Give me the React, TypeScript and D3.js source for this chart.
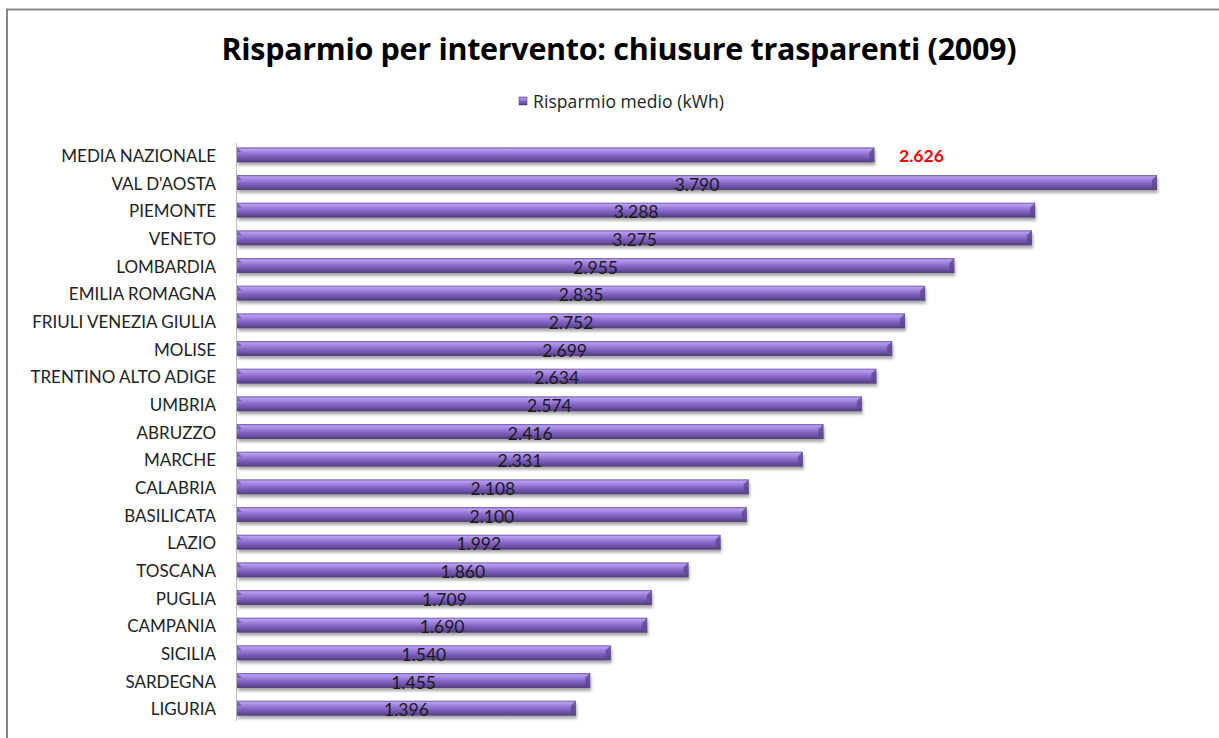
import React from "react";
import * as d3 from "d3";

const categories = [
  "MEDIA NAZIONALE", "VAL D'AOSTA", "PIEMONTE", "VENETO", "LOMBARDIA", "EMILIA ROMAGNA",
  "FRIULI VENEZIA GIULIA", "MOLISE", "TRENTINO ALTO ADIGE", "UMBRIA", "ABRUZZO", "MARCHE",
  "CALABRIA", "BASILICATA", "LAZIO", "TOSCANA", "PUGLIA", "CAMPANIA", "SICILIA", "SARDEGNA", "LIGURIA",
];
const values = [
  2.626, 3.79, 3.288, 3.275, 2.955, 2.835, 2.752, 2.699, 2.634, 2.574, 2.416, 2.331,
  2.108, 2.1, 1.992, 1.86, 1.709, 1.69, 1.54, 1.455, 1.396,
];
const seriesName = "Risparmio medio (kWh)";
const title = "Risparmio per intervento: chiusure trasparenti (2009)";

const W = 1219;
const H = 738;
const FONT = "Lato, 'Open Sans', sans-serif";
const WIDE = "'Open Sans', Lato, sans-serif";

export default function App() {
  const x = d3.scaleLinear().domain([0, 3.79]).range([237, 1157]);
  const y = d3.scaleBand<string>().domain(categories).range([141, 722]).paddingInner(0.46).paddingOuter(0.23);
  const bh = y.bandwidth();
  const fmt = (v: number) => d3.format(".3f")(v);

  return (
    <svg width={W} height={H} style={{ position: "absolute", left: 0, top: 0, background: "#fff" }}>
      <defs>
        <linearGradient id="barg" x1="0" y1="0" x2="0" y2="1">
          <stop offset="0" stopColor="#6a52a0" />
          <stop offset="0.12" stopColor="#b89ef0" />
          <stop offset="0.35" stopColor="#9d7fdc" />
          <stop offset="0.55" stopColor="#8465c4" />
          <stop offset="0.8" stopColor="#6a4fa3" />
          <stop offset="1" stopColor="#4e3b78" />
        </linearGradient>
        <filter id="shadow" x="-5%" y="-50%" width="110%" height="250%">
          <feGaussianBlur in="SourceAlpha" stdDeviation="1.6" />
          <feOffset dx="1" dy="3" result="ob" />
          <feComponentTransfer>
            <feFuncA type="linear" slope="0.35" />
          </feComponentTransfer>
          <feMerge>
            <feMergeNode />
            <feMergeNode in="SourceGraphic" />
          </feMerge>
        </filter>
      </defs>
      <rect x={7} y={9.5} width={1230} height={760} fill="#fff" stroke="#878787" strokeWidth={2} />
      <text x={619} y={60} textAnchor="middle" fontFamily={WIDE} fontWeight="bold" fontSize={30.5} fill="#000"
        textLength={795} lengthAdjust="spacing">
        {title}
      </text>
      <g>
        <rect x={519} y={97} width={8} height={8} fill="url(#barg)" stroke="#4e3b78" strokeWidth={0.5} />
        <text x={533} y={108} fontFamily={WIDE} fontSize={17.5} fill="#222" textLength={191} lengthAdjust="spacing">{seriesName}</text>
      </g>
      <line x1={236.5} x2={236.5} y1={143} y2={721} stroke="#bdbdbd" strokeWidth={1} />
      {categories.map((c, i) => {
        const v = values[i];
        const yy = y(c)!;
        const x0 = x(0);
        const x1 = x(v);
        const b = 5;
        return (
          <g key={c}>
            <g filter="url(#shadow)">
              <rect x={x0} y={yy} width={x1 - x0} height={bh} fill="url(#barg)" />
            </g>
            <polygon points={`${x1 - b},${yy + b} ${x1},${yy} ${x1},${yy + bh} ${x1 - b},${yy + bh - 1}`} fill="#5d4890" opacity={0.8} />
            <polygon points={`${x1 - b},${yy + b} ${x1},${yy} ${x1 - 1},${yy + 1}`} fill="#c9b6f0" opacity={0.9} />
            <polygon points={`${x0},${yy} ${x0 + b},${yy + b} ${x0},${yy + b}`} fill="#5d4890" opacity={0.6} />
            <text x={216} y={yy + bh / 2 + 1} dy="0.36em" textAnchor="end" fontFamily={FONT} fontSize={17} fill="#222">
              {c}
            </text>
            {i === 0 ? (
              <text x={x1 + 47} y={yy + bh / 2 + 1} dy="0.36em" textAnchor="middle" fontFamily={FONT} fontWeight="bold" fontSize={17.5} fill="#ff0000">
                {fmt(v)}
              </text>
            ) : (
              <text x={(x0 + x1) / 2} y={yy + bh / 2 + 2} dy="0.36em" textAnchor="middle" fontFamily={FONT} fontSize={17.5} fill="#1a1a1a">
                {fmt(v)}
              </text>
            )}
          </g>
        );
      })}
    </svg>
  );
}
